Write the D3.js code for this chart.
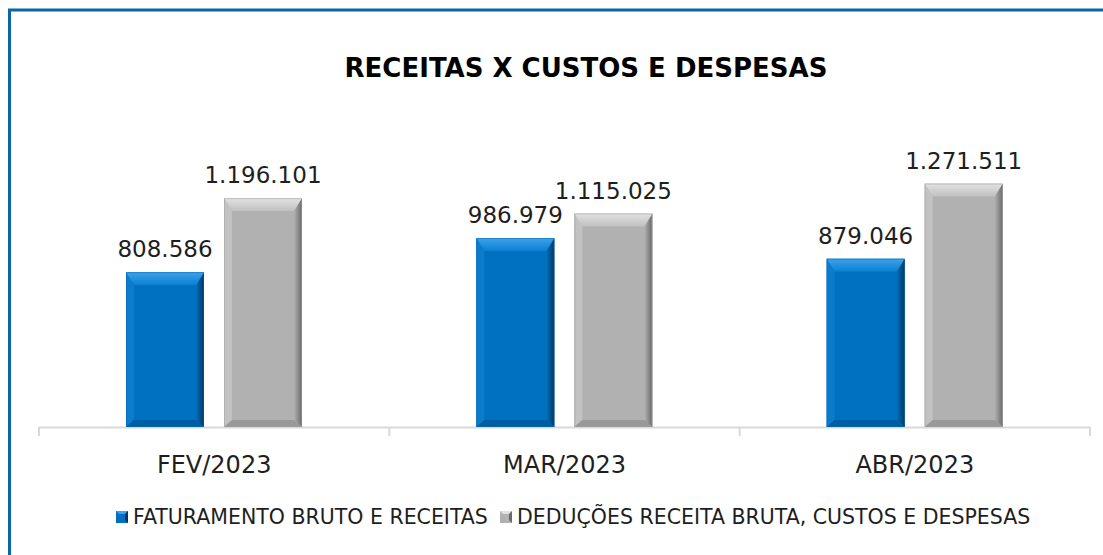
<!DOCTYPE html>
<html>
  <head>
    <meta charset="utf-8">
    <title>Receitas x Custos e Despesas</title>
    <script src="https://d3js.org/d3.v7.min.js"></script>
    <style>
      body { margin: 0; background: #fff; }
      svg text { font-family: "Century Gothic", "DejaVu Sans", sans-serif; fill: #1e1e1e; }
    </style>
  </head>
  <body>
    <div id="chart"></div>
    <script>
    // data
    const months = ["FEV/2023", "MAR/2023", "ABR/2023"];
    const seriesNames = ["FATURAMENTO BRUTO E RECEITAS", "DEDUÇÕES RECEITA BRUTA, CUSTOS E DESPESAS"];
    const faturamento = [808586, 986979, 879046];
    const deducoes = [1196101, 1115025, 1271511];

    const W = 1103, H = 555;
    const baseY = 427;

    const svg = d3.select("#chart").append("svg")
      .attr("width", W).attr("height", H);

    // outer frame (only top and left visible in the picture)
    svg.append("rect")
      .attr("x", 9.5).attr("y", 10).attr("width", 1200).attr("height", 700)
      .attr("fill", "none").attr("stroke", "#0a66a8").attr("stroke-width", 3);

    svg.append("text")
      .attr("x", 586).attr("y", 77)
      .attr("text-anchor", "middle")
      .style("font-size", "26px").style("font-weight", "bold")
      .style("fill", "#000")
      .text("RECEITAS X CUSTOS E DESPESAS");

    const x0 = d3.scaleBand().domain(months).range([39, 1090]).paddingInner(0).paddingOuter(0);
    const x1 = d3.scaleBand().domain([0, 1]).range([87, 263]).paddingInner(20 / 98).paddingOuter(0);
    const y = d3.scaleLinear().domain([0, 1400000]).range([baseY, baseY - 268]);

    // axis line + tick marks between categories
    const ax = svg.append("g").attr("class", "axis");
    ax.append("line")
      .attr("x1", x0.range()[0]).attr("x2", x0.range()[1])
      .attr("y1", baseY + 0.5).attr("y2", baseY + 0.5)
      .attr("stroke", "#d9d9d9").attr("stroke-width", 2);
    const bounds = months.map(m => x0(m)).concat([x0.range()[1]]);
    ax.selectAll(".tk").data(bounds).enter().append("line")
      .attr("class", "tk")
      .attr("x1", d => d).attr("x2", d => d)
      .attr("y1", baseY).attr("y2", baseY + 9)
      .attr("stroke", "#d9d9d9").attr("stroke-width", 2);
    ax.selectAll(".cat").data(months).enter().append("text")
      .attr("class", "cat")
      .attr("x", d => x0(d) + x0.bandwidth() / 2)
      .attr("y", 473)
      .attr("text-anchor", "middle")
      .style("font-size", "24px")
      .text(d => d);

    const palettes = [
      { main: "#0070c0", top: "#3ea3ea", topIn: "#0a7fd0", left: "#0b7ccc", right: "#00345e", bottom: "#005fa2", edge: "#0068b4" },
      { main: "#b1b1b1", top: "#e2e2e2", topIn: "#c0c0c0", left: "#c2c2c2", right: "#6a6a6a", bottom: "#999999", edge: "#a0a0a0" }
    ];

    const defs = svg.append("defs");
    palettes.forEach((p, i) => {
      const g = defs.append("linearGradient").attr("id", "topg" + i)
        .attr("x1", 0).attr("y1", 0).attr("x2", 0).attr("y2", 1);
      g.append("stop").attr("offset", "0%").attr("stop-color", p.top);
      g.append("stop").attr("offset", "100%").attr("stop-color", p.topIn);
      const r = defs.append("linearGradient").attr("id", "rg" + i)
        .attr("x1", 0).attr("y1", 0).attr("x2", 1).attr("y2", 0);
      r.append("stop").attr("offset", "0%").attr("stop-color", p.main);
      r.append("stop").attr("offset", "100%").attr("stop-color", p.right);
    });

    const rows = [];
    months.forEach((m, i) => {
      rows.push({ m: m, s: 0, v: faturamento[i] });
      rows.push({ m: m, s: 1, v: deducoes[i] });
    });

    const fmt = v => d3.format(",")(v).replace(/,/g, ".");

    // bevelled bars
    const bars = svg.selectAll(".bar").data(rows).enter().append("g").attr("class", "bar");
    bars.each(function(d) {
      const g = d3.select(this);
      const p = palettes[d.s];
      const xl = x0(d.m) + x1(d.s), xr = xl + x1.bandwidth();
      const yt = y(d.v), yb = y(0);
      const bt = 13, bs = 8, bb = 7;
      const pts = a => a.map(q => q.join(",")).join(" ");
      g.append("rect").attr("x", xl).attr("y", yt).attr("width", xr - xl).attr("height", yb - yt).attr("fill", p.main);
      // left side
      g.append("polygon").attr("fill", p.left)
        .attr("points", pts([[xl, yt], [xl + bs, yt + bt], [xl + bs, yb - bb], [xl, yb]]));
      // right side
      g.append("polygon").attr("fill", "url(#rg" + d.s + ")")
        .attr("points", pts([[xr, yt], [xr - bs, yt + bt], [xr - bs, yb - bb], [xr, yb]]));
      // bottom
      g.append("polygon").attr("fill", p.bottom)
        .attr("points", pts([[xl, yb], [xl + bs, yb - bb], [xr - bs, yb - bb], [xr, yb]]));
      // top
      g.append("polygon").attr("fill", "url(#topg" + d.s + ")")
        .attr("points", pts([[xl, yt], [xr, yt], [xr - bs, yt + bt], [xl + bs, yt + bt]]));
      g.append("rect").attr("x", xl + 0.5).attr("y", yt + 0.5).attr("width", xr - xl - 1).attr("height", yb - yt - 1)
        .attr("fill", "none").attr("stroke", p.edge).attr("stroke-width", 1).attr("opacity", 0.5);
    });

    svg.selectAll(".val").data(rows).enter().append("text")
      .attr("class", "val")
      .attr("x", d => x0(d.m) + x1(d.s) + x1.bandwidth() / 2)
      .attr("y", d => y(d.v) - 15)
      .attr("text-anchor", "middle")
      .style("font-size", "23px")
      .text(d => fmt(d.v));

    // legend
    const legX = [116, 500];
    const leg = svg.selectAll(".leg").data(seriesNames).enter().append("g")
      .attr("class", "leg")
      .attr("transform", (d, i) => "translate(" + legX[i] + ",517)");
    leg.append("rect").attr("x", 0).attr("y", -6).attr("width", 12).attr("height", 12)
      .attr("fill", (d, i) => palettes[i].main);
    leg.append("polygon")
      .attr("points", "0,-6 12,-6 9,-3 3,-3")
      .attr("fill", (d, i) => palettes[i].top);
    leg.append("polygon")
      .attr("points", "12,-6 12,6 9,3 9,-3")
      .attr("fill", (d, i) => palettes[i].right);
    leg.append("text")
      .attr("x", 17).attr("y", 7)
      .style("font-size", "20.5px")
      .text(d => d);
    </script>
  </body>
</html>
